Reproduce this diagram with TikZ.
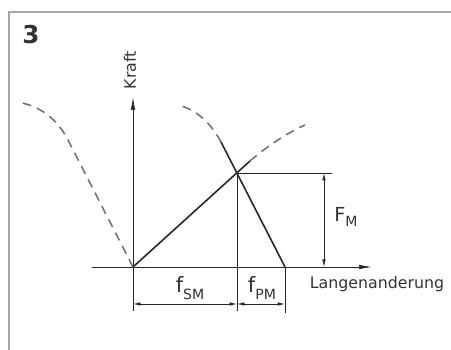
\documentclass[tikz,border=0pt]{standalone}
\usepackage{fontspec}
\setmainfont{DejaVu Sans}
\usetikzlibrary{arrows.meta}

\begin{document}
\begin{tikzpicture}
[x=0.02cm, y=-0.02cm, font=\fontsize{9}{10}\selectfont, line width=0.4pt, black!85]
\tikzstyle{frame}=[draw=black!35, line width=0.7pt]
\tikzstyle{axis}=[-{Latex[length=2.6mm,width=0.9mm]}]
\tikzstyle{dimline}=[{Latex[length=1.5mm,width=0.7mm]}-{Latex[length=1.5mm,width=0.7mm]}]
\tikzstyle{spring}=[line width=0.9pt]
\tikzstyle{curve}=[line width=0.9pt, black!55, dash pattern=on 5pt off 3.5pt]
\tikzstyle{txt}=[inner sep=0pt, text=black!80]
\useasboundingbox (0,0) rectangle (451,350);

% frame and number
\draw[frame] (9,352) -- (9,12) -- (453,12);
\node[txt, font=\fontsize{14}{14}\selectfont\bfseries] (num) at (31,35) {3};

% points of the diagram
\coordinate (O)    at (133,267);
\coordinate (M)    at (237,173);
\coordinate (P)    at (285,267);
\coordinate (Sa)   at (250,161);
\coordinate (Pa)   at (221,142);
\coordinate (La)   at (68,140);
\coordinate (Ytop) at (133,97);
\coordinate (Ybot) at (133,311);
\coordinate (Xl)   at (92,267);
\coordinate (Xr)   at (372,267);
\coordinate (Mbot) at (237,311);
\coordinate (Pbot) at (285,313);
\coordinate (Mr)   at (332,173);
\coordinate (FMt)  at (324,173);
\coordinate (FMb)  at (324,267);
\coordinate (D0)   at (133,304);
\coordinate (D1)   at (237,304);
\coordinate (D2)   at (285,304);

% axes
\draw[axis] (Ybot) -- (Ytop);
\draw[axis] (Xl) -- (Xr);
\node[txt, rotate=90] (kraft) at (130,70) {Kraft};
\node[txt] (laenge) at (377,284) {Langenanderung};

% spring lines
\draw[spring] (O) -- (Sa);
\draw[spring] (P) -- (Pa);
\draw[curve] (Sa) .. controls (265,148) and (285,134) .. (305,125);
\draw[curve] (Pa) .. controls (212,125) and (198,110) .. (178,105);
\draw[curve] (O) -- (La) .. controls (60,124) and (45,108) .. (22,103);

% dimensions
\draw (M) -- (Mr);
\draw (M) -- (Mbot);
\draw (P) -- (Pbot);
\draw[dimline] (FMt) -- (FMb);
\draw[dimline] (D0) -- (D1);
\draw[dimline] (D1) -- (D2);
\node[txt] (FM) at (346,217) {\fontsize{11}{11}\selectfont F\raisebox{-0.5ex}{\fontsize{8}{8}\selectfont M}};
\node[txt] (fSM) at (190,288) {\fontsize{12}{12}\selectfont f\raisebox{-0.6ex}{\fontsize{8}{8}\selectfont SM}};
\node[txt] (fPM) at (262,288) {\fontsize{12}{12}\selectfont f\raisebox{-0.6ex}{\fontsize{8}{8}\selectfont PM}};
\end{tikzpicture}
\end{document}
